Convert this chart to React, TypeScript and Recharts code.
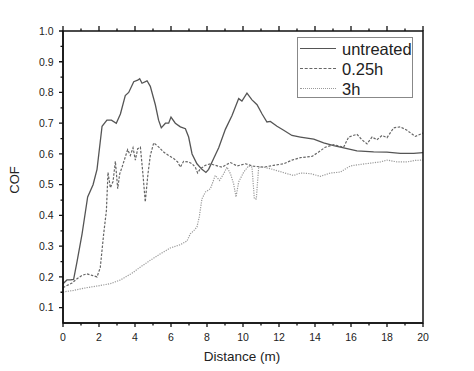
import { LineChart, Line, XAxis, YAxis } from 'recharts';

// COF vs sliding distance
const untreated: [number, number][] = [
  [0, 0.178], [0.22, 0.19], [0.41, 0.19], [0.59, 0.192], [0.78, 0.25], [1.06, 0.34],
  [1.37, 0.46], [1.67, 0.5], [1.89, 0.55], [2.17, 0.69], [2.44, 0.71], [2.69, 0.71],
  [2.96, 0.7], [3.19, 0.73], [3.46, 0.79], [3.65, 0.8], [3.93, 0.835], [4.15, 0.84],
  [4.26, 0.845], [4.39, 0.83], [4.67, 0.838], [4.85, 0.82], [5.13, 0.76], [5.31, 0.71],
  [5.46, 0.685], [5.69, 0.7], [5.87, 0.7], [6.0, 0.72], [6.24, 0.7], [6.52, 0.688],
  [6.8, 0.682], [6.98, 0.655], [7.17, 0.6], [7.44, 0.568], [7.72, 0.55], [7.94, 0.54],
  [8.09, 0.55], [8.37, 0.585], [8.65, 0.62], [9.02, 0.68], [9.39, 0.725], [9.76, 0.78],
  [9.94, 0.772], [10.22, 0.798], [10.5, 0.776], [10.78, 0.76], [11.06, 0.73], [11.33, 0.704],
  [11.52, 0.706], [11.89, 0.69], [12.26, 0.677], [12.72, 0.66], [13.19, 0.655], [13.93, 0.648],
  [14.48, 0.636], [15.04, 0.627], [15.78, 0.617], [16.33, 0.61], [17.26, 0.607], [18.0, 0.606],
  [18.74, 0.602], [19.48, 0.602], [20, 0.604],
];

const treated025h: [number, number][] = [
  [0, 0.165], [0.22, 0.172], [0.5, 0.18], [0.78, 0.194], [1.06, 0.205], [1.33, 0.21],
  [1.61, 0.205], [1.89, 0.2], [2.07, 0.23], [2.26, 0.34], [2.41, 0.415], [2.5, 0.54],
  [2.63, 0.49], [2.78, 0.51], [2.91, 0.576], [3.04, 0.487], [3.15, 0.535], [3.28, 0.557],
  [3.46, 0.59], [3.59, 0.614], [3.74, 0.595], [3.89, 0.62], [4.02, 0.58], [4.15, 0.617],
  [4.3, 0.622], [4.44, 0.535], [4.57, 0.444], [4.72, 0.535], [4.85, 0.595], [5.04, 0.636],
  [5.31, 0.623], [5.59, 0.606], [5.87, 0.595], [6.15, 0.585], [6.37, 0.574], [6.52, 0.557],
  [6.7, 0.576], [6.98, 0.574], [7.17, 0.568], [7.35, 0.557], [7.48, 0.538], [7.63, 0.552],
  [7.91, 0.563], [8.19, 0.568], [8.46, 0.563], [8.83, 0.557], [9.3, 0.572], [9.67, 0.561],
  [10.13, 0.568], [10.59, 0.56], [11.15, 0.557], [11.7, 0.563], [12.26, 0.568], [12.72, 0.58],
  [13.19, 0.588], [13.83, 0.592], [14.2, 0.606], [14.57, 0.622], [15.04, 0.63], [15.59, 0.622],
  [15.87, 0.655], [16.33, 0.664], [16.61, 0.646], [16.89, 0.633], [17.17, 0.655], [17.44, 0.646],
  [17.72, 0.66], [18.0, 0.653], [18.37, 0.685], [18.74, 0.688], [19.11, 0.677], [19.57, 0.657],
  [20, 0.668],
];

const treated3h: [number, number][] = [
  [0, 0.151], [0.59, 0.156], [1.33, 0.165], [2.07, 0.172], [2.63, 0.178], [3.19, 0.19],
  [3.83, 0.212], [4.3, 0.232], [4.85, 0.254], [5.41, 0.275], [5.96, 0.294], [6.52, 0.305],
  [6.89, 0.317], [7.07, 0.34], [7.26, 0.35], [7.44, 0.362], [7.57, 0.395], [7.72, 0.454],
  [7.91, 0.476], [8.19, 0.487], [8.46, 0.53], [8.7, 0.514], [8.93, 0.536], [9.11, 0.557],
  [9.3, 0.536], [9.48, 0.503], [9.61, 0.46], [9.76, 0.509], [10.04, 0.541], [10.31, 0.561],
  [10.5, 0.557], [10.63, 0.454], [10.74, 0.454], [10.87, 0.557], [11.15, 0.557], [11.52, 0.552],
  [11.98, 0.544], [12.44, 0.536], [12.81, 0.53], [13.19, 0.538], [13.74, 0.536], [14.3, 0.527],
  [14.85, 0.538], [15.41, 0.541], [15.96, 0.561], [16.52, 0.566], [17.07, 0.57], [17.63, 0.574],
  [18.0, 0.58], [18.56, 0.574], [19.11, 0.574], [19.57, 0.579], [20, 0.58],
];

const xTicks = Array.from({ length: 21 }, (_, i) => i);
const yTicks = [0.1, 0.15, 0.2, 0.25, 0.3, 0.35, 0.4, 0.45, 0.5, 0.55, 0.6, 0.65, 0.7, 0.75, 0.8, 0.85, 0.9, 0.95, 1.0];
const X_DOMAIN: [number, number] = [0, 20];
const Y_DOMAIN: [number, number] = [0.05, 1.0];

const FONT = '"Liberation Sans", Arial, sans-serif';
const AXIS = '#111';
// plot box, matches the chart margins + axis sizes below
const PLOT = { left: 63, top: 31, width: 360, height: 292 };

const toRows = (pts: [number, number][]) => pts.map(([x, y]) => ({ x, y }));
const isMajorX = (v: number) => v % 2 === 0;
const isMajorY = (v: number) => Math.round(v * 100) % 10 === 0;
const px = (v: number) => PLOT.left + ((v - X_DOMAIN[0]) / (X_DOMAIN[1] - X_DOMAIN[0])) * PLOT.width;
const py = (v: number) => PLOT.top + ((Y_DOMAIN[1] - v) / (Y_DOMAIN[1] - Y_DOMAIN[0])) * PLOT.height;

function BottomTick({ x, y, payload }: any) {
  const v = payload.value as number;
  if (!isMajorX(v)) return <g />;
  return (
    <text x={x} y={y + 17.5} textAnchor="middle" fontSize={10.5} fill="#222" fontFamily={FONT}>
      {v}
    </text>
  );
}

function LeftTick({ x, y, payload }: any) {
  const v = payload.value as number;
  if (!isMajorY(v)) return <g />;
  return (
    <text x={x - 9.5} y={y} dy="0.36em" textAnchor="end" fontSize={10.5} fill="#222" fontFamily={FONT}>
      {v.toFixed(1)}
    </text>
  );
}

// frame and tick marks (Origin style: outward ticks bottom/left/top, none on the right)
function Frame() {
  const b = PLOT.top + PLOT.height;
  const d: string[] = [];
  xTicks.forEach((v) => {
    const x = px(v);
    const major = isMajorX(v);
    d.push(`M${x},${b}V${b + (major ? 4 : 2.5)}`);
    d.push(`M${x},${PLOT.top}V${PLOT.top - (major ? 5 : 2.5)}`);
  });
  yTicks.forEach((v) => {
    const y = py(v);
    d.push(`M${PLOT.left},${y}H${PLOT.left - (isMajorY(v) ? 4 : 2.5)}`);
  });
  return (
    <g>
      <rect x={PLOT.left} y={PLOT.top} width={PLOT.width} height={PLOT.height} fill="none" stroke={AXIS} strokeWidth={1.5} />
      <path d={d.join('')} stroke={AXIS} strokeWidth={1.3} fill="none" />
    </g>
  );
}

const legendItems = [
  { name: 'untreated', border: '1.3px solid #555' },
  { name: '0.25h', border: '1.3px dashed #666' },
  { name: '3h', border: '1.3px dotted #9a9a9a' },
];

export default function App() {
  return (
    <div style={{ position: 'absolute', left: 0, top: 0, width: 474, height: 371, fontFamily: FONT, color: '#222' }}>
      <LineChart width={474} height={371} margin={{ top: PLOT.top, right: 474 - PLOT.left - PLOT.width, bottom: 0, left: 0 }}>
        <XAxis
          dataKey="x"
          type="number"
          domain={X_DOMAIN}
          ticks={xTicks}
          interval={0}
          height={371 - PLOT.top - PLOT.height}
          tickSize={0}
          tickMargin={0}
          tickLine={false}
          axisLine={{ stroke: AXIS, strokeWidth: 1.5 }}
          tick={<BottomTick />}
        />
        <YAxis
          type="number"
          domain={Y_DOMAIN}
          ticks={yTicks}
          interval={0}
          width={PLOT.left}
          tickSize={0}
          tickMargin={0}
          tickLine={false}
          axisLine={{ stroke: AXIS, strokeWidth: 1.5 }}
          tick={<LeftTick />}
        />
        <Line data={toRows(untreated)} dataKey="y" stroke="#555" strokeWidth={1.3} dot={false} isAnimationActive={false} />
        <Line data={toRows(treated025h)} dataKey="y" stroke="#666" strokeWidth={1.2} strokeDasharray="2.5 1.5" dot={false} isAnimationActive={false} />
        <Line data={toRows(treated3h)} dataKey="y" stroke="#9a9a9a" strokeWidth={1.2} strokeDasharray="1.2 1.2" dot={false} isAnimationActive={false} />
      </LineChart>

      <svg width={474} height={371} style={{ position: 'absolute', left: 0, top: 0, pointerEvents: 'none' }}>
        <Frame />
      </svg>

      <div style={{ position: 'absolute', left: 0, top: 349, width: 484, textAlign: 'center', fontSize: 13.5, lineHeight: '16px' }}>
        Distance (m)
      </div>
      <div
        style={{
          position: 'absolute', left: 15 - 30, top: 180 - 8, width: 60, textAlign: 'center',
          fontSize: 13, lineHeight: '16px', transform: 'rotate(-90deg)',
        }}
      >
        COF
      </div>
      <div
        style={{
          position: 'absolute', left: 297, top: 36.5, width: 114, height: 58, border: '1.5px solid #888',
          background: '#fff', paddingTop: 1,
        }}
      >
        {legendItems.map((it) => (
          <div key={it.name} style={{ display: 'flex', alignItems: 'center', height: 20, fontSize: 16.5 }}>
            <span style={{ width: 36, marginLeft: 2, marginRight: 6, borderTop: it.border, height: 0 }} />
            <span style={{ lineHeight: '20px' }}>{it.name}</span>
          </div>
        ))}
      </div>
    </div>
  );
}
